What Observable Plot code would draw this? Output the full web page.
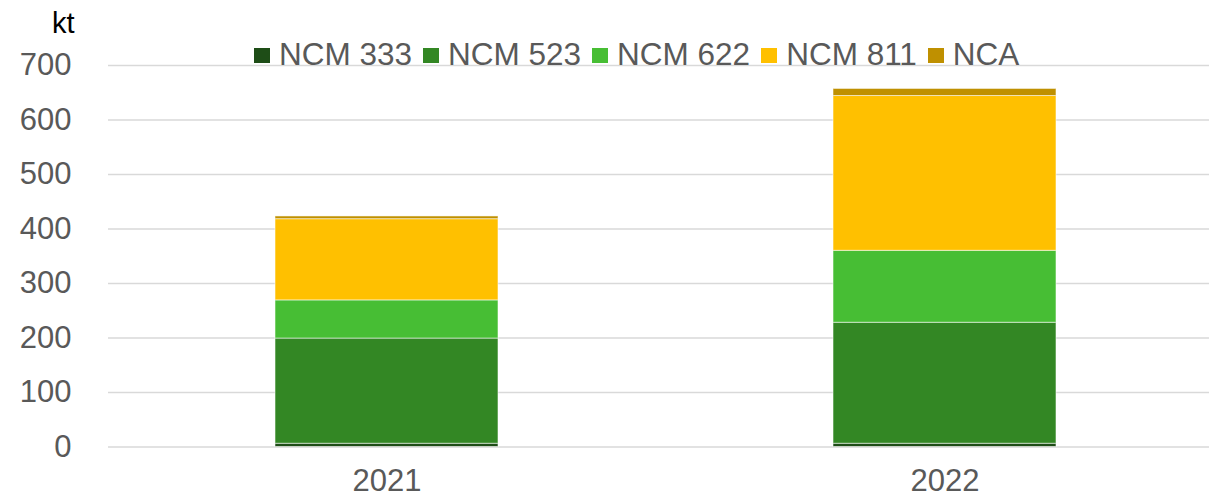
<!DOCTYPE html>
<html>
<head>
<meta charset="utf-8">
<script src="https://cdn.jsdelivr.net/npm/d3@7"></script>
<script src="https://cdn.jsdelivr.net/npm/@observablehq/plot@0.6"></script>
<style>
  html, body { margin: 0; padding: 0; background: #fff; }
  #wrap { position: relative; width: 1209px; height: 498px; font-family: "Liberation Sans", Arial, sans-serif; }
  #unit { position: absolute; left: 52px; top: 9px; font-size: 29px; line-height: 29px; color: #000; }
  #legend { position: absolute; left: 254px; top: 39px; display: flex; align-items: flex-start; font-size: 31.5px; line-height: 31px; color: #595959; z-index: 2; }
  #legend .item { display: flex; align-items: flex-start; margin-right: 11px; }
  #legend .sw { width: 16px; height: 15px; margin-top: 9px; margin-right: 9px; }
  #chart { position: absolute; left: 0; top: 0; }
</style>
</head>
<body>
<div id="wrap">
  <div id="chart"></div>
  <div id="unit">kt</div>
  <div id="legend"></div>
</div>
<script>
const years = ["2021", "2022"];
const series = ["NCM 333", "NCM 523", "NCM 622", "NCM 811", "NCA"];
const colors = ["#1e4d17", "#338724", "#47be34", "#ffc000", "#bf9000"];
const values2021 = [6, 193, 70, 149, 5];
const values2022 = [6, 222, 132, 284, 13];
const yTicks = [0, 100, 200, 300, 400, 500, 600, 700];

const valuesByYear = [values2021, values2022];
const data = [];
years.forEach((yr, i) => {
  series.forEach((s, j) => data.push({year: yr, series: s, value: valuesByYear[i][j]}));
});

const plot = Plot.plot({
  width: 1209,
  height: 498,
  marginTop: 65,
  marginBottom: 51.5,
  marginLeft: 108,
  marginRight: 0,
  style: {fontFamily: '"Liberation Sans", Arial, sans-serif', background: "transparent"},
  x: {domain: years, range: [108, 1224], paddingInner: 0.6, paddingOuter: 0.3, label: null},
  y: {domain: [0, 700], label: null},
  color: {domain: series, range: colors},
  marks: [
    Plot.gridY(yTicks, {stroke: "#d9d9d9", strokeOpacity: 1, strokeWidth: 1.3}),
    Plot.barY(data, {x: "year", y: "value", fill: "series", stroke: "white", strokeOpacity: 0.55, strokeWidth: 1}),
    Plot.axisY(yTicks, {tickSize: 0, tickPadding: 37, fontSize: 31, fill: "#595959", label: null}),
    Plot.axisX({tickSize: 0, tickPadding: 22, fontSize: 31, fill: "#595959", label: null})
  ]
});
document.getElementById("chart").appendChild(plot);

const legend = document.getElementById("legend");
series.forEach((s, j) => {
  const it = document.createElement("div");
  it.className = "item";
  const sw = document.createElement("div");
  sw.className = "sw";
  sw.style.background = colors[j];
  const tx = document.createElement("span");
  tx.textContent = s;
  it.appendChild(sw);
  it.appendChild(tx);
  legend.appendChild(it);
});
</script>
</body>
</html>
